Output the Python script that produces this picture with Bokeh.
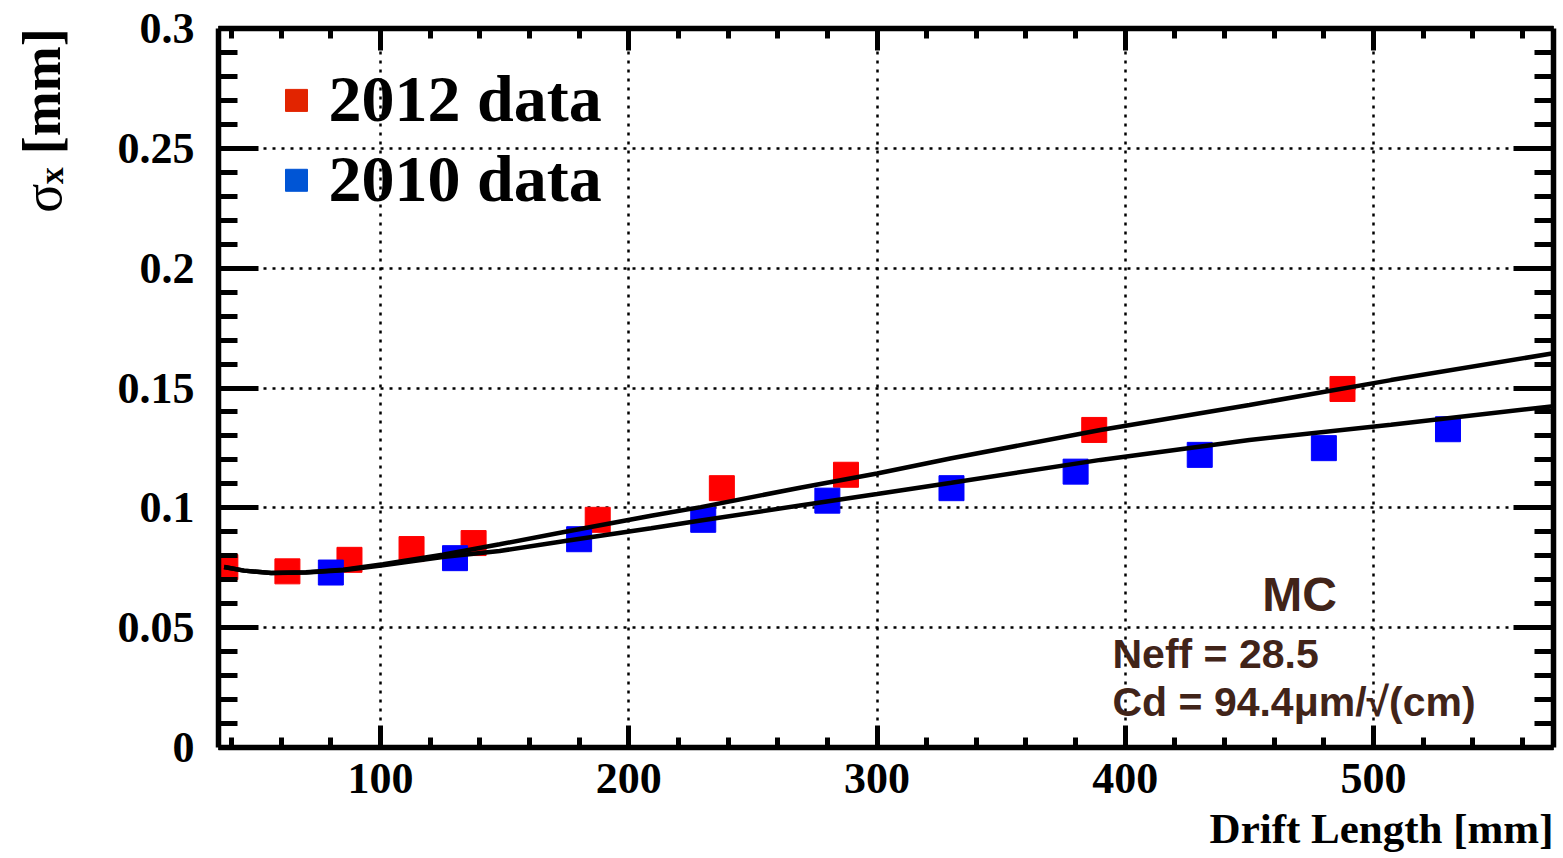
import numpy as np
from bokeh.plotting import figure
from bokeh.layouts import row
from bokeh.models import (LinearAxis, FixedTicker, CustomJSTickFormatter, Label, Range1d,
                          Grid, Title)
from bokeh.embed import file_html
from bokeh.resources import INLINE

# ---------------- data ----------------
x_2012 = [37.5, 62.5, 87.5, 112.5, 137.5, 187.5, 237.5, 287.5, 387.5, 487.5]
y_2012 = [0.0753, 0.0735, 0.0783, 0.0828, 0.0853, 0.0950, 0.1082, 0.1138, 0.1325, 0.1496]

x_2010 = [80, 130, 180, 230, 280, 330, 380, 430, 480, 530]
y_2010 = [0.0730, 0.0790, 0.0869, 0.0950, 0.1030, 0.1082, 0.1151, 0.1221, 0.1249, 0.1328]

fit_x = [37, 45, 56, 70, 85, 101, 125, 148, 175, 209, 229, 269, 300, 330, 390, 450, 507, 572.5]
fit2012_y = [0.0753, 0.0738, 0.0728, 0.0731, 0.0742, 0.0765, 0.0804, 0.0848, 0.0901, 0.0967,
             0.1003, 0.1084, 0.1143, 0.1207, 0.1325, 0.1429, 0.1533, 0.1645]
fit2010_y = [0.0753, 0.0738, 0.0728, 0.0730, 0.0740, 0.0760, 0.0795, 0.0820, 0.0863, 0.0915,
             0.0947, 0.1010, 0.1058, 0.1105, 0.1200, 0.1283, 0.1347, 0.1424]

x_major = [100, 200, 300, 400, 500]
y_major = [0, 0.05, 0.1, 0.15, 0.2, 0.25, 0.3]

legend_labels = ["2012 data", "2010 data"]
mc_title = "MC"
mc_lines = ["Neff = 28.5", "Cd = 94.4μm/√(cm)"]
x_title = "Drift Length [mm]"
y_title_parts = ["σ", "x", "[mm]"]

# ---------------- layout ----------------
W, H = 1563, 858
SIDE = 100                      # width of the strip holding the y title
FL, FR, FT, FB = 218, 1553, 28, 748   # frame in page pixels
X0, X1 = 34.74, 572.5
Y0, Y1 = 0.0, 0.3
FONT = "Liberation Serif"
BASE_SHIFT = 0.37               # label baseline correction (fraction of font size)


def dx(px):
    return X0 + (px - FL) / (FR - FL) * (X1 - X0)


def dy(py):
    return Y0 + (FB - py) / (FB - FT) * (Y1 - Y0)


# ---- strip with the rotated y-axis title (text starts at the bottom end) ----
side = figure(width=SIDE, height=H, output_backend="svg", toolbar_location=None,
              x_range=Range1d(0, SIDE), y_range=Range1d(H, 0),
              x_axis_type=None, y_axis_type=None,
              min_border=0, min_border_left=0, min_border_right=0,
              min_border_top=0, min_border_bottom=0)
side.outline_line_color = None
side.grid.visible = False
side.background_fill_color = "white"
side.border_fill_color = "white"
ang = np.pi / 2
side.add_layout(Label(x=62 - BASE_SHIFT * 54, y=220, text=y_title_parts[0], angle=ang,
                      text_font=FONT, text_font_style="normal", text_font_size="54px",
                      text_color="black", text_align="left", text_baseline="alphabetic"))
side.add_layout(Label(x=64 - BASE_SHIFT * 34, y=186, text=y_title_parts[1], angle=ang,
                      text_font=FONT, text_font_style="bold", text_font_size="34px",
                      text_color="black", text_align="left", text_baseline="alphabetic"))
side.add_layout(Label(x=61 - BASE_SHIFT * 54, y=150, text=y_title_parts[2], angle=ang,
                      text_font=FONT, text_font_style="bold", text_font_size="54px",
                      text_color="black", text_align="left", text_baseline="alphabetic"))

# ---- main plot ----
p = figure(width=W - SIDE, height=H, output_backend="svg", toolbar_location=None,
           x_range=Range1d(X0, X1), y_range=Range1d(Y0, Y1),
           x_axis_type=None, y_axis_type=None,
           min_border_left=FL - SIDE, min_border_right=W - FR, min_border_top=FT,
           min_border_bottom=H - FB)
p.outline_line_color = None
p.background_fill_color = "white"
p.border_fill_color = "white"

x_ticker = FixedTicker(ticks=x_major, minor_ticks=list(range(40, 572, 20)))
y_ticker = FixedTicker(ticks=y_major, minor_ticks=[round(v * 0.01, 2) for v in range(0, 31)])
y_fmt = CustomJSTickFormatter(code="return parseFloat(tick.toFixed(3)).toString();")
blank = CustomJSTickFormatter(code="return '';")


def style_axis(ax, major_in, minor_in, labels=True):
    ax.axis_line_width = 5.5
    ax.axis_line_color = "black"
    ax.major_tick_in = major_in
    ax.major_tick_out = 0
    ax.minor_tick_in = minor_in
    ax.minor_tick_out = 0
    ax.major_tick_line_width = 5
    ax.minor_tick_line_width = 5
    ax.major_tick_line_color = "black"
    ax.minor_tick_line_color = "black"
    ax.major_label_text_font = FONT
    ax.major_label_text_font_style = "bold"
    ax.major_label_text_color = "black"
    if labels:
        ax.major_label_text_font_size = "44px"
    else:
        ax.major_label_text_font_size = "1px"
        ax.major_label_standoff = 0


bottom = LinearAxis(ticker=x_ticker)
style_axis(bottom, 22, 10)
bottom.major_label_standoff = 16
p.add_layout(bottom, "below")

top = LinearAxis(ticker=x_ticker, formatter=blank)
style_axis(top, 22, 10, labels=False)
p.add_layout(top, "above")

left = LinearAxis(ticker=y_ticker, formatter=y_fmt)
style_axis(left, 40, 19)
left.major_label_standoff = 24
p.add_layout(left, "left")

right = LinearAxis(ticker=y_ticker, formatter=blank)
style_axis(right, 40, 19, labels=False)
p.add_layout(right, "right")

for dim, tk in ((0, x_ticker), (1, y_ticker)):
    g = Grid(dimension=dim, ticker=tk, grid_line_color="black", grid_line_width=2.5,
             grid_line_dash="3 6")
    p.add_layout(g)

# x-axis title
p.add_layout(Title(text=x_title, align="right", text_font=FONT, text_font_style="bold",
                   text_font_size="43px", text_color="black", standoff=14), "below")

# data
p.scatter(x_2012, y_2012, marker="square", size=25, fill_color="#ff0000", line_color="#ff0000")
p.scatter(x_2010, y_2010, marker="square", size=25, fill_color="#0000ff", line_color="#0000ff")
p.line(fit_x, fit2012_y, line_color="black", line_width=4.5)
p.line(fit_x, fit2010_y, line_color="black", line_width=4.5)

# legend
leg_colors = ["#e22400", "#0055d5"]
for i, (lab, col) in enumerate(zip(legend_labels, leg_colors)):
    cy = 100 + 80 * i
    p.scatter([dx(296)], [dy(cy)], marker="square", size=22, fill_color=col, line_color=col)
    p.add_layout(Label(x=dx(328), y=dy(cy + 22 - 24), text=lab, text_font=FONT,
                       text_font_style="bold", text_font_size="66px", text_color="black",
                       text_baseline="alphabetic", text_align="left"))

# MC annotation
BROWN = "#412419"
p.add_layout(Label(x=dx(1299), y=dy(612 - 17), text=mc_title, text_font="Liberation Sans",
                   text_font_style="bold", text_font_size="48px", text_color=BROWN,
                   text_align="center", text_baseline="alphabetic"))
for i, t in enumerate(mc_lines):
    p.add_layout(Label(x=dx(1112), y=dy(670 + 48 * i - 16), text=t, text_font="Liberation Sans",
                       text_font_style="bold", text_font_size="41px", text_color=BROWN,
                       text_align="left", text_baseline="alphabetic"))

layout = row(side, p, spacing=0)
open("out.html", "w").write(file_html(layout, INLINE))
